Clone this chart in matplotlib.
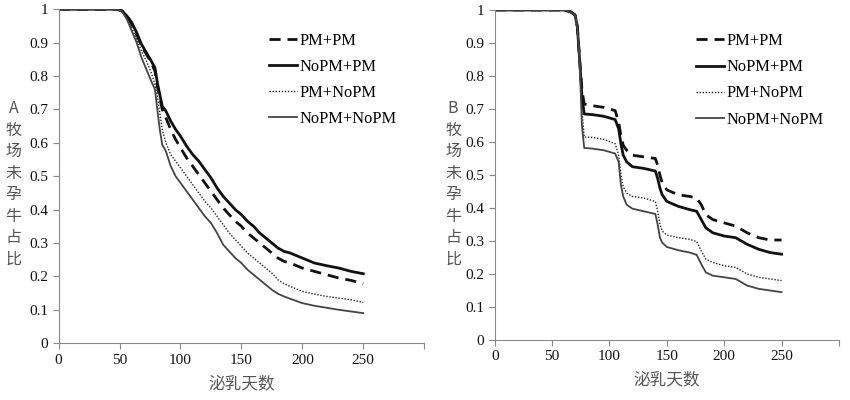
import matplotlib.pyplot as plt

# ---- panel A ----
a_days = [0, 48, 52, 56, 60, 64, 68, 72, 76, 79, 81, 83, 85, 88, 92, 96, 100, 105, 110, 115, 120,
          125, 130, 135, 140, 145, 150, 155, 160, 165, 170, 175, 180, 185, 190, 200, 210, 220, 230, 240, 250]
a_pm_pm = [1, 1, 0.995, 0.98, 0.955, 0.925, 0.89, 0.865, 0.84, 0.815, 0.77, 0.735, 0.7, 0.675, 0.64, 0.61,
           0.585, 0.555, 0.53, 0.505, 0.48, 0.455, 0.43, 0.405, 0.385, 0.365, 0.35, 0.33, 0.315, 0.3,
           0.285, 0.27, 0.255, 0.245, 0.24, 0.225, 0.215, 0.205, 0.195, 0.188, 0.178]
a_nopm_pm = [1, 1, 0.995, 0.98, 0.96, 0.93, 0.895, 0.87, 0.845, 0.825, 0.78, 0.745, 0.71, 0.695, 0.665, 0.64,
             0.62, 0.59, 0.565, 0.545, 0.52, 0.495, 0.465, 0.44, 0.42, 0.4, 0.385, 0.365, 0.35, 0.33,
             0.315, 0.3, 0.285, 0.275, 0.27, 0.255, 0.24, 0.232, 0.225, 0.215, 0.208]
a_pm_nopm = [1, 1, 0.995, 0.975, 0.945, 0.91, 0.875, 0.845, 0.81, 0.775, 0.74, 0.69, 0.64, 0.6, 0.565, 0.545,
             0.525, 0.5, 0.475, 0.45, 0.425, 0.405, 0.38, 0.355, 0.33, 0.31, 0.29, 0.27, 0.255, 0.24,
             0.225, 0.21, 0.19, 0.178, 0.17, 0.155, 0.147, 0.14, 0.135, 0.13, 0.122]
a_nopm_nopm = [1, 1, 0.993, 0.97, 0.935, 0.9, 0.855, 0.82, 0.785, 0.76, 0.7, 0.64, 0.595, 0.575, 0.53, 0.5,
               0.48, 0.455, 0.43, 0.405, 0.38, 0.36, 0.33, 0.295, 0.275, 0.255, 0.24, 0.22, 0.205, 0.19,
               0.175, 0.16, 0.148, 0.14, 0.133, 0.12, 0.112, 0.106, 0.1, 0.095, 0.09]

# ---- panel B ----
b_days = [0, 60, 66, 70, 72, 74, 76, 78, 85, 95, 105, 108, 110, 112, 115, 120, 130, 140, 142, 144, 146,
          150, 160, 170, 176, 180, 184, 190, 200, 210, 215, 220, 230, 240, 250]
b_pm_pm = [1, 1, 0.995, 0.985, 0.95, 0.85, 0.76, 0.715, 0.71, 0.705, 0.695, 0.66, 0.62, 0.59, 0.575,
           0.56, 0.555, 0.55, 0.53, 0.5, 0.475, 0.455, 0.44, 0.435, 0.43, 0.41, 0.38, 0.365, 0.355,
           0.345, 0.335, 0.325, 0.31, 0.303, 0.303]
b_nopm_pm = [1, 1, 0.995, 0.985, 0.95, 0.85, 0.74, 0.685, 0.683, 0.678, 0.668, 0.64, 0.595, 0.56, 0.54,
             0.525, 0.52, 0.512, 0.49, 0.46, 0.44, 0.42, 0.405, 0.395, 0.39, 0.365, 0.34, 0.325, 0.315,
             0.31, 0.3, 0.29, 0.275, 0.265, 0.26]
b_pm_nopm = [1, 1, 0.995, 0.985, 0.95, 0.85, 0.7, 0.615, 0.614, 0.608, 0.595, 0.56, 0.5, 0.465, 0.445,
             0.435, 0.43, 0.42, 0.39, 0.35, 0.33, 0.318, 0.31, 0.305, 0.298, 0.27, 0.245, 0.235, 0.225,
             0.22, 0.21, 0.2, 0.19, 0.185, 0.18]
b_nopm_nopm = [1, 1, 0.995, 0.985, 0.95, 0.85, 0.65, 0.582, 0.58, 0.575, 0.565, 0.54, 0.47, 0.435, 0.41,
               0.398, 0.39, 0.382, 0.35, 0.31, 0.295, 0.282, 0.272, 0.265, 0.258, 0.23, 0.205, 0.195, 0.19,
               0.185, 0.175, 0.165, 0.155, 0.15, 0.145]

labels = ['PM+PM', 'NoPM+PM', 'PM+NoPM', 'NoPM+NoPM']
x_ticks = [0, 50, 100, 150, 200, 250, 300]
x_ticklabels = ['0', '50', '100', '150', '200', '250', '']
y_ticks = [0, 0.1, 0.2, 0.3, 0.4, 0.5, 0.6, 0.7, 0.8, 0.9, 1]
y_ticklabels = ['0', '0.1', '0.2', '0.3', '0.4', '0.5', '0.6', '0.7', '0.8', '0.9', '1']

serif = 'Liberation Serif'
cjk = ['Noto Sans CJK SC', 'DejaVu Sans']
grey = '#555555'

fig = plt.figure(figsize=(8.5, 4), dpi=100)
ax_a = fig.add_axes([0.069, 0.142, 0.43, 0.835])
ax_b = fig.add_axes([0.582, 0.15, 0.405, 0.825])

styles = [
    dict(color='#111111', lw=2.0, ls=(0, (4, 2.5))),
    dict(color='#111111', lw=2.0, ls='-'),
    dict(color='#222222', lw=1.0, ls=(0, (1, 1.2))),
    dict(color='#444444', lw=1.3, ls='-'),
]


def draw(ax, days, series, tag, lab_x, leg_anchor):
    for ys, lab, st in zip(series, labels, styles):
        ax.plot(days, ys, label=lab, **st)
    ax.set_xlim(0, 300)
    ax.set_ylim(0, 1)
    ax.set_xticks(x_ticks)
    ax.set_xticklabels(x_ticklabels, fontfamily=serif, fontsize=11)
    ax.set_yticks(y_ticks)
    ax.set_yticklabels(y_ticklabels, fontfamily=serif, fontsize=11)
    for s in ['top', 'right']:
        ax.spines[s].set_visible(False)
    for s in ['left', 'bottom']:
        ax.spines[s].set_color('#888888')
    ax.tick_params(colors='#888888', labelcolor='#111111', length=4)
    ax.set_xlabel('泌乳天数', fontfamily=cjk, fontsize=12, color=grey, labelpad=6)
    ax.legend(loc='upper left', bbox_to_anchor=leg_anchor, frameon=False,
              handlelength=1.7, handletextpad=0.15, labelspacing=0.62, borderaxespad=0,
              borderpad=0, prop={'family': serif, 'size': 11.8})
    fig.text(lab_x, 0.75, tag + '\n' + '\n'.join('牧场未孕牛占比'), ha='center', va='top',
             fontfamily=cjk, fontsize=11.5, color=grey, linespacing=1.35)


draw(ax_a, a_days, [a_pm_pm, a_nopm_pm, a_pm_nopm, a_nopm_nopm], 'A', 0.016, (0.575, 0.93))
draw(ax_b, b_days, [b_pm_pm, b_nopm_pm, b_pm_nopm, b_nopm_nopm], 'B', 0.533, (0.585, 0.93))

fig.savefig('out.png', dpi=100)
